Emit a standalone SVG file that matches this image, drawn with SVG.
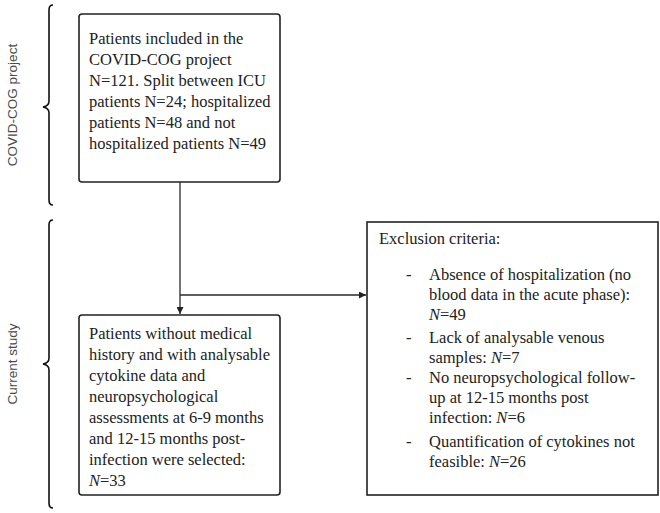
<svg xmlns="http://www.w3.org/2000/svg" width="660" height="513" viewBox="0 0 660 513">
<style>
.t{font-family:'Liberation Serif','Times New Roman','DejaVu Serif',serif;font-size:16.5px;fill:#222}
.lab{font-family:'Liberation Sans',Arial,sans-serif;font-size:13.5px;fill:#4a4a4a}
.box{fill:#fff;stroke:#222;stroke-width:1.6}
.br{fill:none;stroke:#111;stroke-width:1.6}
.c{fill:none;stroke:#2a2a2a;stroke-width:1.3}
</style>
<defs>
<marker id="ah" viewBox="0 0 10 10" refX="10" refY="5" markerWidth="9" markerHeight="7" markerUnits="userSpaceOnUse" orient="auto">
<path d="M0,0 L10,5 L0,10 z" fill="#222"/>
</marker>
</defs>
<rect width="660" height="513" fill="#fff"/>
<g id="braces">
<path class="br" d="M53,5 Q49,5 49,10 L49,101 Q49,106 43,107 Q49,108 49,113 L49,200 Q49,205 53,205"/>
<text class="lab" transform="translate(17,105) rotate(-90)" text-anchor="middle">COVID-COG project</text>
<path class="br" d="M53,220 Q49,220 49,225 L49,358 Q49,363 43,364 Q49,365 49,370 L49,503 Q49,508 53,508"/>
<text class="lab" transform="translate(17,364) rotate(-90)" text-anchor="middle">Current study</text>
</g>
<g id="connectors">
<path class="c" d="M180,182 L180,314" marker-end="url(#ah)"/>
<path class="c" d="M180,295 L366,295" marker-end="url(#ah)"/>
</g>
<g id="n1">
<rect class="box" x="79" y="14" width="201" height="168" rx="3"/>
<text class="t" x="89" y="44">Patients included in the</text>
<text class="t" x="89" y="65">COVID-COG project</text>
<text class="t" x="89" y="86">N=121. Split between ICU</text>
<text class="t" x="89" y="107">patients N=24; hospitalized</text>
<text class="t" x="89" y="128">patients N=48 and not</text>
<text class="t" x="89" y="149">hospitalized patients N=49</text>
</g>
<g id="n2">
<rect class="box" x="79" y="315" width="201" height="180" rx="3"/>
<text class="t" x="89" y="339">Patients without medical</text>
<text class="t" x="89" y="360">history and with analysable</text>
<text class="t" x="89" y="381">cytokine data and</text>
<text class="t" x="89" y="402">neuropsychological</text>
<text class="t" x="89" y="423">assessments at 6-9 months</text>
<text class="t" x="89" y="444">and 12-15 months post-</text>
<text class="t" x="89" y="465">infection were selected:</text>
<text class="t" x="89" y="486"><tspan font-style="italic">N</tspan>=33</text>
</g>
<g id="n3">
<rect class="box" x="367" y="222" width="291" height="273" stroke-width="2.2"/>
<text class="t" x="379" y="244">Exclusion criteria:</text>
<text class="t" x="406" y="280">-</text>
<text class="t" x="429" y="280">Absence of hospitalization (no</text>
<text class="t" x="429" y="300">blood data in the acute phase):</text>
<text class="t" x="429" y="320"><tspan font-style="italic">N</tspan>=49</text>
<text class="t" x="406" y="343">-</text>
<text class="t" x="429" y="343">Lack of analysable venous</text>
<text class="t" x="429" y="363">samples: <tspan font-style="italic">N</tspan>=7</text>
<text class="t" x="406" y="383">-</text>
<text class="t" x="429" y="383">No neuropsychological follow-</text>
<text class="t" x="429" y="403">up at 12-15 months post</text>
<text class="t" x="429" y="423">infection: <tspan font-style="italic">N</tspan>=6</text>
<text class="t" x="406" y="447">-</text>
<text class="t" x="429" y="447">Quantification of cytokines not</text>
<text class="t" x="429" y="467">feasible: <tspan font-style="italic">N</tspan>=26</text>
</g>
</svg>
